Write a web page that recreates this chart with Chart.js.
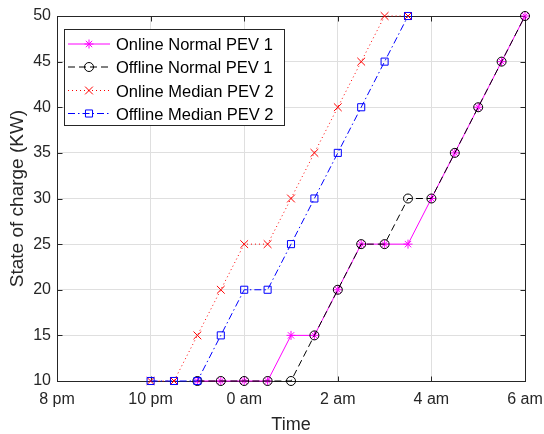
<!DOCTYPE html>
<html><head><meta charset="utf-8">
<script src="https://cdn.jsdelivr.net/npm/chart.js@4/dist/chart.umd.min.js"></script>
<style>html,body{margin:0;padding:0;background:#fff;}#wrap{width:544px;height:434px;}</style>
</head><body><div id="wrap"><canvas id="c" width="544" height="434"></canvas></div>
<script>
// Time in clock hours (24 = midnight, 30 = 6 am)
const timeNormal = [23, 23.5, 24, 24.5, 25, 25.5, 26, 26.5, 27, 27.5, 28, 28.5, 29, 29.5, 30];
const onlineNormalPEV1 = [10, 10, 10, 10, 15, 15, 20, 25, 25, 25, 30, 35, 40, 45, 50];
const offlineNormalPEV1 = [10, 10, 10, 10, 10, 15, 20, 25, 25, 30, 30, 35, 40, 45, 50];
const timeMedian = [22, 22.5, 23, 23.5, 24, 24.5, 25, 25.5, 26, 26.5, 27, 27.5];
const onlineMedianPEV2 = [10, 10, 15, 20, 25, 25, 30, 35, 40, 45, 50, 50];
const offlineMedianPEV2 = [10, 10, 10, 15, 20, 20, 25, 30, 35, 40, 45, 50];
const seriesNames = ['Online Normal PEV 1', 'Offline Normal PEV 1', 'Online Median PEV 2', 'Offline Median PEV 2'];
const xTickLabels = ['8 pm', '10 pm', '0 am', '2 am', '4 am', '6 am'];
const yTickValues = [10, 15, 20, 25, 30, 35, 40, 45, 50];

const FONT = "'Liberation Sans', Arial, Helvetica, sans-serif";
const AXIS = '#262626';

function pts(xs, ys) { return xs.map((x, i) => ({x: x, y: ys[i]})); }

function drawMarker(ctx, style, x, y, r) {
  ctx.beginPath();
  if (style === 'circle') {
    ctx.arc(x, y, r, 0, Math.PI * 2);
  } else if (style === 'rect') {
    const s = Math.SQRT1_2 * r;
    ctx.rect(x - s, y - s, 2 * s, 2 * s);
  } else if (style === 'crossRot') {
    const o = Math.SQRT1_2 * r;
    ctx.moveTo(x - o, y - o); ctx.lineTo(x + o, y + o);
    ctx.moveTo(x - o, y + o); ctx.lineTo(x + o, y - o);
  } else if (style === 'star') {
    ctx.moveTo(x, y - r); ctx.lineTo(x, y + r);
    ctx.moveTo(x - r, y); ctx.lineTo(x + r, y);
    const o = Math.SQRT1_2 * r;
    ctx.moveTo(x - o, y - o); ctx.lineTo(x + o, y + o);
    ctx.moveTo(x - o, y + o); ctx.lineTo(x + o, y - o);
  }
  ctx.stroke();
}

const frame = {
  id: 'frame',
  beforeDatasetsDraw(chart) {
    const {ctx, chartArea: a, scales: {x, y}} = chart;
    ctx.save();
    ctx.strokeStyle = AXIS;
    ctx.lineWidth = 1;
    const L = Math.round(a.left) + 0.5, R = Math.round(a.right) + 0.5;
    const T = Math.round(a.top) + 0.5, B = Math.round(a.bottom) + 0.5;
    ctx.strokeRect(L, T, R - L, B - T);
    const tl = 5;
    ctx.beginPath();
    x.ticks.forEach(t => {
      const px = Math.round(x.getPixelForValue(t.value)) + 0.5;
      ctx.moveTo(px, B); ctx.lineTo(px, B - tl);
      ctx.moveTo(px, T); ctx.lineTo(px, T + tl);
    });
    y.ticks.forEach(t => {
      const py = Math.round(y.getPixelForValue(t.value)) + 0.5;
      ctx.moveTo(L, py); ctx.lineTo(L + tl, py);
      ctx.moveTo(R, py); ctx.lineTo(R - tl, py);
    });
    ctx.stroke();
    ctx.restore();
  }
};

const legendBox = {
  id: 'legendBox',
  afterDraw(chart) {
    const ctx = chart.ctx;
    const bx = 64.5, by = 29.5, bw = 220, bh = 96;
    ctx.save();
    ctx.fillStyle = '#fff';
    ctx.fillRect(bx, by, bw, bh);
    ctx.strokeStyle = AXIS;
    ctx.lineWidth = 1;
    ctx.strokeRect(bx, by, bw, bh);
    const rows = [44, 67, 90.5, 113.5];
    chart.data.datasets.forEach((ds, i) => {
      const yy = rows[i];
      ctx.save();
      ctx.strokeStyle = ds.borderColor;
      ctx.lineWidth = ds.borderWidth;
      ctx.setLineDash(ds.borderDash || []);
      ctx.beginPath();
      ctx.moveTo(68, yy); ctx.lineTo(110, yy);
      ctx.stroke();
      ctx.setLineDash([]);
      ctx.strokeStyle = ds.pointBorderColor;
      ctx.lineWidth = ds.pointBorderWidth;
      drawMarker(ctx, ds.pointStyle, 89, yy, ds.pointRadius);
      ctx.restore();
      ctx.fillStyle = '#000';
      ctx.font = '16.5px ' + FONT;
      ctx.textBaseline = 'alphabetic';
      ctx.textAlign = 'left';
      ctx.fillText(seriesNames[i], 116, yy + 6);
    });
    ctx.restore();
  }
};

function ds(label, xs, ys, color, dash, style, r, order) {
  return {
    label: label,
    data: pts(xs, ys),
    borderColor: color,
    borderWidth: 1,
    borderDash: dash,
    pointStyle: style,
    pointRadius: r,
    pointBorderWidth: 1,
    pointBorderColor: color,
    pointBackgroundColor: 'rgba(0,0,0,0)',
    tension: 0,
    fill: false,
    clip: false,
    order: order
  };
}

new Chart(document.getElementById('c'), {
  type: 'line',
  data: {
    datasets: [
      ds(seriesNames[0], timeNormal, onlineNormalPEV1, '#ff00ff', [], 'star', 4.5, 4),
      ds(seriesNames[1], timeNormal, offlineNormalPEV1, '#000000', [7, 4], 'circle', 4.5, 3),
      ds(seriesNames[2], timeMedian, onlineMedianPEV2, '#ff0000', [1, 3], 'crossRot', 5.5, 2),
      ds(seriesNames[3], timeMedian, offlineMedianPEV2, '#0000ff', [7, 3, 1.5, 3], 'rect', 5, 1)
    ]
  },
  options: {
    responsive: false,
    animation: false,
    devicePixelRatio: 1,
    events: [],
    layout: {padding: {left: 0, right: 19, top: 16, bottom: 0}},
    plugins: {legend: {display: false}, tooltip: {enabled: false}},
    scales: {
      x: {
        type: 'linear', min: 20, max: 30,
        afterBuildTicks(s) { s.ticks = xTickLabels.map((_, i) => ({value: 20 + 2 * i})); },
        ticks: {
          callback: (v) => xTickLabels[Math.round((v - 20) / 2)],
          font: {family: FONT, size: 16}, color: AXIS, padding: 9, maxRotation: 0, autoSkip: false
        },
        grid: {color: '#dfdfdf', drawTicks: false, lineWidth: 1},
        border: {display: false},
        title: {display: true, text: 'Time', font: {family: FONT, size: 18, lineHeight: 1}, color: AXIS, padding: {top: 0, bottom: 0}},
        afterFit(s) { s.height = 53; s.paddingLeft = 0; s.paddingRight = 0; }
      },
      y: {
        type: 'linear', min: 10, max: 50,
        afterBuildTicks(s) { s.ticks = yTickValues.map(v => ({value: v})); },
        ticks: {font: {family: FONT, size: 16}, color: AXIS, padding: 6, autoSkip: false},
        grid: {color: '#dfdfdf', drawTicks: false, lineWidth: 1},
        border: {display: false},
        title: {display: true, text: 'State of charge (KW)', font: {family: FONT, size: 19, lineHeight: 1}, color: AXIS, padding: {top: 8, bottom: 0}},
        afterFit(s) { s.width = 57; s.paddingTop = 0; s.paddingBottom = 0; }
      }
    }
  },
  plugins: [frame, legendBox]
});
</script></body></html>
